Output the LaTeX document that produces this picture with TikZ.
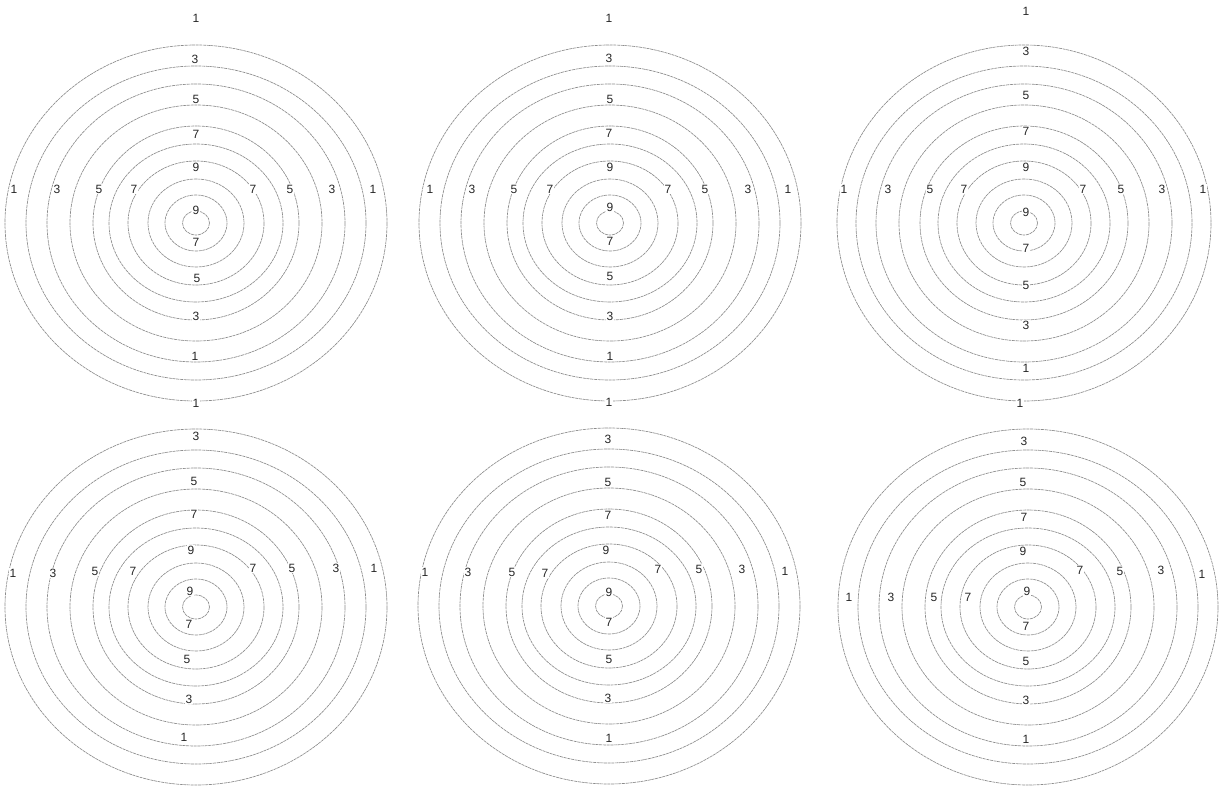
\documentclass[tikz,border=0pt]{standalone}
\usepackage{fontspec}
\setmainfont{Liberation Sans}
\usepackage{xcolor}
\usetikzlibrary{positioning}
\colorlet{colorRing}{black!45}
\colorlet{colorLbl}{black!85}
\tikzset{
   ring/.style={draw=colorRing,line width=0.65pt,dash pattern=on 3pt off 0.7pt},
   lbl/.style={text=colorLbl,fill=white,inner sep=0.8pt,font=\fontsize{12}{14}\selectfont},
}

\begin{document}
\begin{tikzpicture}[x=1pt,y=-1pt]

\useasboundingbox[fill=white] (0,0) rectangle (1219,786);

% =========================================================
% target 1 (top left)
% =========================================================

\draw[ring] (196,223) ellipse (191 and 178) ellipse (170 and 157)
   ellipse (149 and 139) ellipse (126 and 118) ellipse (103 and 97)
   ellipse (87 and 79) ellipse (68 and 62) ellipse (48 and 44)
   ellipse (31 and 28) ellipse (13.5 and 12);

\node[lbl] (a-top1) at (196,18) {1};
\node[lbl] (a-top3) at (195,59) {3};
\node[lbl] (a-top5) at (196,99) {5};
\node[lbl] (a-top7) at (196,134) {7};
\node[lbl] (a-top9) at (196,167) {9};
\node[lbl] (a-in9) at (196,210) {9};
\node[lbl] (a-bot7) at (196,242) {7};
\node[lbl] (a-bot5) at (197,278) {5};
\node[lbl] (a-bot3) at (196,316) {3};
\node[lbl] (a-bot1) at (195,356) {1};
\node[lbl] (a-rim1) at (196,403) {1};

\node[lbl] (a-l1) at (14,189) {1};
\node[lbl] (a-l3) at (57,189) {3};
\node[lbl] (a-l5) at (99,189) {5};
\node[lbl] (a-l7) at (134,189) {7};
\node[lbl] (a-r7) at (253,189) {7};
\node[lbl] (a-r5) at (290,189) {5};
\node[lbl] (a-r3) at (332,189) {3};
\node[lbl] (a-r1) at (373,189) {1};


% =========================================================
% target 2 (top middle)
% =========================================================

\draw[ring] (610,223) ellipse (191 and 178) ellipse (170 and 157)
   ellipse (149 and 139) ellipse (126 and 118) ellipse (103 and 97)
   ellipse (87 and 79) ellipse (68 and 62) ellipse (48 and 44)
   ellipse (31 and 28) ellipse (13.5 and 12);

\node[lbl] (b-top1) at (609,18) {1};
\node[lbl] (b-top3) at (609,58) {3};
\node[lbl] (b-top5) at (610,99) {5};
\node[lbl] (b-top7) at (609,133) {7};
\node[lbl] (b-top9) at (610,167) {9};
\node[lbl] (b-in9) at (610,207) {9};
\node[lbl] (b-bot7) at (610,241) {7};
\node[lbl] (b-bot5) at (610,276) {5};
\node[lbl] (b-bot3) at (610,316) {3};
\node[lbl] (b-bot1) at (610,356) {1};
\node[lbl] (b-rim1) at (609,402) {1};

\node[lbl] (b-l1) at (430,189) {1};
\node[lbl] (b-l3) at (472,189) {3};
\node[lbl] (b-l5) at (514,189) {5};
\node[lbl] (b-l7) at (550,189) {7};
\node[lbl] (b-r7) at (668,189) {7};
\node[lbl] (b-r5) at (705,189) {5};
\node[lbl] (b-r3) at (748,189) {3};
\node[lbl] (b-r1) at (788,189) {1};


% =========================================================
% target 3 (top right)
% =========================================================

\draw[ring] (1024,223) ellipse (187 and 178) ellipse (168 and 157)
   ellipse (148 and 139) ellipse (125 and 118) ellipse (104 and 97)
   ellipse (86 and 79) ellipse (67 and 62) ellipse (48 and 44)
   ellipse (31 and 28) ellipse (13.5 and 12);

\node[lbl] (c-top1) at (1026,11) {1};
\node[lbl] (c-top3) at (1026,51) {3};
\node[lbl] (c-top5) at (1026,95) {5};
\node[lbl] (c-top7) at (1026,131) {7};
\node[lbl] (c-top9) at (1026,167) {9};
\node[lbl] (c-in9) at (1026,212) {9};
\node[lbl] (c-bot7) at (1026,248) {7};
\node[lbl] (c-bot5) at (1026,285) {5};
\node[lbl] (c-bot3) at (1026,325) {3};
\node[lbl] (c-bot1) at (1026,368) {1};
\node[lbl] (c-rim1) at (1020,403) {1};

\node[lbl] (c-l1) at (844,189) {1};
\node[lbl] (c-l3) at (888,189) {3};
\node[lbl] (c-l5) at (930,189) {5};
\node[lbl] (c-l7) at (964,189) {7};
\node[lbl] (c-r7) at (1083,189) {7};
\node[lbl] (c-r5) at (1121,189) {5};
\node[lbl] (c-r3) at (1162,189) {3};
\node[lbl] (c-r1) at (1203,189) {1};


% =========================================================
% target 4 (bottom left)
% =========================================================

\draw[ring] (196,607) ellipse (191 and 178) ellipse (170 and 157)
   ellipse (149 and 139) ellipse (126 and 118) ellipse (103 and 97)
   ellipse (87 and 79) ellipse (68 and 62) ellipse (48 and 44)
   ellipse (31 and 28) ellipse (13.5 and 12);

\node[lbl] (d-top3) at (196,436) {3};
\node[lbl] (d-top5) at (194,481) {5};
\node[lbl] (d-top7) at (194,514) {7};
\node[lbl] (d-top9) at (191,550) {9};
\node[lbl] (d-in9) at (190,591) {9};
\node[lbl] (d-bot7) at (189,624) {7};
\node[lbl] (d-bot5) at (187,659) {5};
\node[lbl] (d-bot3) at (189,699) {3};
\node[lbl] (d-bot1) at (184,737) {1};

\node[lbl] (d-l1) at (13,573) {1};
\node[lbl] (d-l3) at (53,573) {3};
\node[lbl] (d-l5) at (95,571) {5};
\node[lbl] (d-l7) at (133,571) {7};
\node[lbl] (d-r7) at (253,568) {7};
\node[lbl] (d-r5) at (292,568) {5};
\node[lbl] (d-r3) at (336,568) {3};
\node[lbl] (d-r1) at (374,568) {1};


% =========================================================
% target 5 (bottom middle)
% =========================================================

\draw[ring] (609,606) ellipse (191 and 178) ellipse (170 and 157)
   ellipse (149 and 139) ellipse (126 and 118) ellipse (103 and 97)
   ellipse (87 and 79) ellipse (68 and 62) ellipse (48 and 44)
   ellipse (31 and 28) ellipse (13.5 and 12);

\node[lbl] (e-top3) at (608,439) {3};
\node[lbl] (e-top5) at (608,482) {5};
\node[lbl] (e-top7) at (608,515) {7};
\node[lbl] (e-top9) at (606,550) {9};
\node[lbl] (e-in9) at (609,592) {9};
\node[lbl] (e-bot7) at (609,622) {7};
\node[lbl] (e-bot5) at (609,659) {5};
\node[lbl] (e-bot3) at (608,698) {3};
\node[lbl] (e-bot1) at (609,738) {1};

\node[lbl] (e-l1) at (425,572) {1};
\node[lbl] (e-l3) at (468,572) {3};
\node[lbl] (e-l5) at (512,572) {5};
\node[lbl] (e-l7) at (545,573) {7};
\node[lbl] (e-r7) at (658,569) {7};
\node[lbl] (e-r5) at (699,569) {5};
\node[lbl] (e-r3) at (742,569) {3};
\node[lbl] (e-r1) at (785,571) {1};


% =========================================================
% target 6 (bottom right)
% =========================================================

\draw[ring] (1028,607) ellipse (190 and 178) ellipse (170 and 157)
   ellipse (149 and 139) ellipse (126 and 118) ellipse (103 and 97)
   ellipse (87 and 79) ellipse (68 and 62) ellipse (48 and 44)
   ellipse (31 and 28) ellipse (13.5 and 12);

\node[lbl] (f-top3) at (1024,441) {3};
\node[lbl] (f-top5) at (1023,482) {5};
\node[lbl] (f-top7) at (1024,517) {7};
\node[lbl] (f-top9) at (1023,551) {9};
\node[lbl] (f-in9) at (1027,591) {9};
\node[lbl] (f-bot7) at (1026,626) {7};
\node[lbl] (f-bot5) at (1026,661) {5};
\node[lbl] (f-bot3) at (1026,700) {3};
\node[lbl] (f-bot1) at (1026,739) {1};

\node[lbl] (f-l1) at (849,597) {1};
\node[lbl] (f-l3) at (891,597) {3};
\node[lbl] (f-l5) at (934,597) {5};
\node[lbl] (f-l7) at (968,597) {7};
\node[lbl] (f-r7) at (1080,570) {7};
\node[lbl] (f-r5) at (1120,571) {5};
\node[lbl] (f-r3) at (1161,570) {3};
\node[lbl] (f-r1) at (1202,574) {1};

\end{tikzpicture}
\end{document}
